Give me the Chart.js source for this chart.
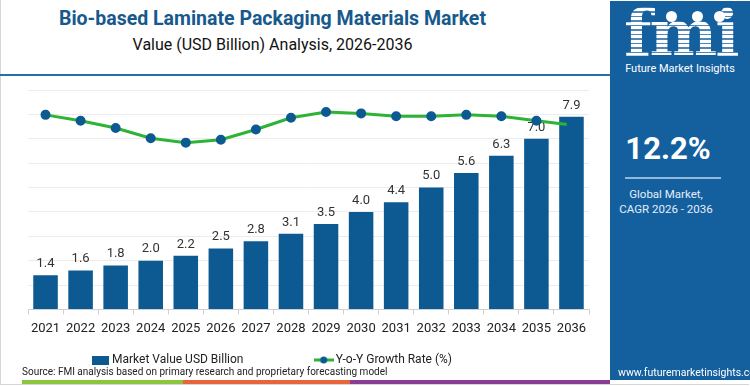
<!DOCTYPE html>
<html>
<head>
<meta charset="utf-8">
<script src="https://cdn.jsdelivr.net/npm/chart.js@4.4.1/dist/chart.umd.min.js"></script>
<style>
  html, body { margin: 0; padding: 0; }
  body { width: 750px; height: 386px; position: relative; overflow: hidden; background: #fff; font-family: Roboto, "Open Sans", sans-serif; }
  .frame { position: absolute; left: 0; top: 0; width: 749px; height: 385px; border-left: 1px solid #d6d6d6; border-bottom: 1px solid #d6d6d6; box-sizing: border-box; }
  .title { position: absolute; left: 0; width: 545px; top: 7px; text-align: center; font-weight: 700; font-size: 19.5px; color: #17598c; }
  .subtitle { position: absolute; left: 0; width: 545px; top: 35px; text-align: center; font-size: 16px; color: #111; }
  .rule { position: absolute; left: 0; top: 74px; width: 610px; height: 2px; background: #2a6ea8; }
  #wrap { position: absolute; left: -50px; top: 80px; width: 646px; height: 300px; }
  .source { position: absolute; left: 22px; top: 366px; font-size: 10px; color: #222; }
  .stripe { position: absolute; top: 380px; height: 4px; }
  .panel { position: absolute; left: 610px; top: 1px; width: 140px; height: 379px; background: #14609f; color: #fff; }
  .fmi { position: absolute; left: 14px; top: -6px; font-family: "DejaVu Serif", serif; font-weight: 700; font-size: 64px; letter-spacing: -2px;
         background: repeating-linear-gradient(#fff 0 3px, rgba(255,255,255,0.25) 3px 4.5px); -webkit-background-clip: text; background-clip: text; color: transparent; }
  .dot { position: absolute; width: 11px; height: 11px; border-radius: 50%; background: #fff; }
  .fmitag { position: absolute; left: 0; width: 140px; top: 61px; text-align: center; font-size: 11px; }
  .cagr { position: absolute; left: 0; width: 116px; top: 129px; text-align: center; font-size: 31px; font-weight: 700; }
  .cline { position: absolute; left: 15px; top: 176px; width: 96px; height: 2px; background: #8fb8dd; }
  .glob { position: absolute; left: 0; width: 112px; top: 186px; text-align: center; font-size: 11.5px; line-height: 15px; color: #e4eef8; }
  .www { position: absolute; left: 8px; top: 365px; font-size: 10.5px; color: #fff; }
</style>
</head>
<body>
<div class="frame"></div>
<div class="title">Bio-based Laminate Packaging Materials Market</div>
<div class="subtitle">Value (USD Billion) Analysis, 2026-2036</div>
<div class="rule"></div>
<div id="wrap"><canvas id="chart"></canvas></div>
<div class="source">Source: FMI analysis based on primary research and proprietary forecasting model</div>
<div class="stripe" style="left:22px;width:161px;background:#8cc63f;"></div>
<div class="stripe" style="left:183px;width:167px;background:#e8643a;"></div>
<div class="stripe" style="left:350px;width:260px;background:#8a3c96;"></div>
<div class="panel">
  <div class="fmi">fmi</div>
  <div class="dot" style="left:56px;top:10px;"></div>
  <div class="dot" style="left:82px;top:10px;"></div>
  <div class="dot" style="left:104px;top:10px;"></div>
  <div class="fmitag">Future Market Insights</div>
  <div class="cagr">12.2%</div>
  <div class="cline"></div>
  <div class="glob">Global Market,<br>CAGR 2026 - 2036</div>
  <div class="www">www.futuremarketinsights.com</div>
</div>
<script>
// --- chart data ---
const years = ['2021', '2022', '2023', '2024', '2025', '2026', '2027', '2028', '2029', '2030', '2031', '2032', '2033', '2034', '2035', '2036'];
const marketValue = [1.4, 1.6, 1.8, 2.0, 2.2, 2.5, 2.8, 3.1, 3.5, 4.0, 4.4, 5.0, 5.6, 6.3, 7.0, 7.9];
const growthRate = [13.3, 12.9, 12.4, 11.7, 11.4, 11.6, 12.3, 13.1, 13.5, 13.4, 13.2, 13.2, 13.3, 13.2, 12.9, 12.6];
const valueTicks = [0, 1, 2, 3, 4, 5, 6, 7, 8, 9];

const barColor = '#0c5a91';
const lineColor = '#2db336';

// legend icons
function makeBarIcon() {
    const c = document.createElement('canvas');
    c.width = 17; c.height = 9;
    const g = c.getContext('2d');
    g.fillStyle = barColor;
    g.fillRect(0, 0, 17, 9);
    return c;
}
function makeLineIcon() {
    const c = document.createElement('canvas');
    c.width = 20; c.height = 8;
    const g = c.getContext('2d');
    g.strokeStyle = lineColor; g.lineWidth = 3;
    g.beginPath(); g.moveTo(0, 4); g.lineTo(20, 4); g.stroke();
    g.fillStyle = barColor;
    g.beginPath(); g.arc(10, 4, 3.5, 0, Math.PI * 2); g.fill();
    return c;
}
const barIcon = makeBarIcon();
const lineIcon = makeLineIcon();
// wider gap after the first legend entry
const legendGap = '\u2003\u2003\u2003\u2003\u2003 ';

// value labels above bars (drawn before the line so the line sits on top)
const barLabels = {
    id: 'barLabels',
    afterDatasetDraw(chart, args) {
        if (args.index !== 0) return;
        const ctx = chart.ctx;
        ctx.save();
        ctx.font = '13px Roboto';
        ctx.fillStyle = '#333';
        ctx.textAlign = 'center';
        ctx.textBaseline = 'bottom';
        args.meta.data.forEach((bar, i) => {
            ctx.fillText(marketValue[i].toFixed(1), bar.x, bar.y - 5);
        });
        ctx.restore();
    }
};

new Chart(document.getElementById('chart'), {
    type: 'bar',
    data: {
        labels: years,
        datasets: [
            {
                label: 'Market Value USD Billion',
                data: marketValue,
                backgroundColor: barColor,
                barPercentage: 0.7,
                categoryPercentage: 1.0,
                yAxisID: 'y',
                order: 1
            },
            {
                label: 'Y-o-Y Growth Rate (%)',
                type: 'line',
                data: growthRate,
                borderColor: lineColor,
                borderWidth: 3,
                pointBackgroundColor: barColor,
                pointBorderColor: barColor,
                pointRadius: 3.5,
                tension: 0,
                yAxisID: 'y1',
                order: 0
            }
        ]
    },
    options: {
        responsive: true,
        maintainAspectRatio: false,
        animation: false,
        layout: { padding: { top: 10, right: 0, bottom: 4, left: 0 } },
        plugins: {
            tooltip: { enabled: false },
            legend: {
                position: 'bottom',
                labels: {
                    usePointStyle: true,
                    pointStyleWidth: 12,
                    padding: 10,
                    color: '#222',
                    font: { family: 'Roboto', size: 12 },
                    generateLabels(chart) {
                        return chart.data.datasets.map((ds, i) => ({
                            text: i === 0 ? ds.label + legendGap : ds.label,
                            pointStyle: i === 0 ? barIcon : lineIcon,
                            fillStyle: barColor,
                            strokeStyle: barColor,
                            lineWidth: 0,
                            fontColor: '#222',
                            datasetIndex: i
                        }));
                    }
                }
            }
        },
        scales: {
            x: {
                offset: true,
                grid: { display: true, drawOnChartArea: false, offset: true, tickLength: 5, color: '#d0d0d0' },
                border: { color: '#d0d0d0' },
                ticks: { color: '#222', padding: 7, maxRotation: 0, autoSkip: false, font: { family: 'Roboto', size: 13 } }
            },
            y: {
                min: 0,
                max: 9,
                afterBuildTicks(scale) { scale.ticks = valueTicks.map(v => ({ value: v })); },
                afterFit(scale) { scale.width = 78; },
                grid: { color: '#ececec', drawTicks: false },
                border: { display: false },
                ticks: { display: false }
            },
            y1: {
                display: false,
                min: 0,
                max: 15
            }
        }
    },
    plugins: [barLabels]
});
</script>
</body>
</html>
